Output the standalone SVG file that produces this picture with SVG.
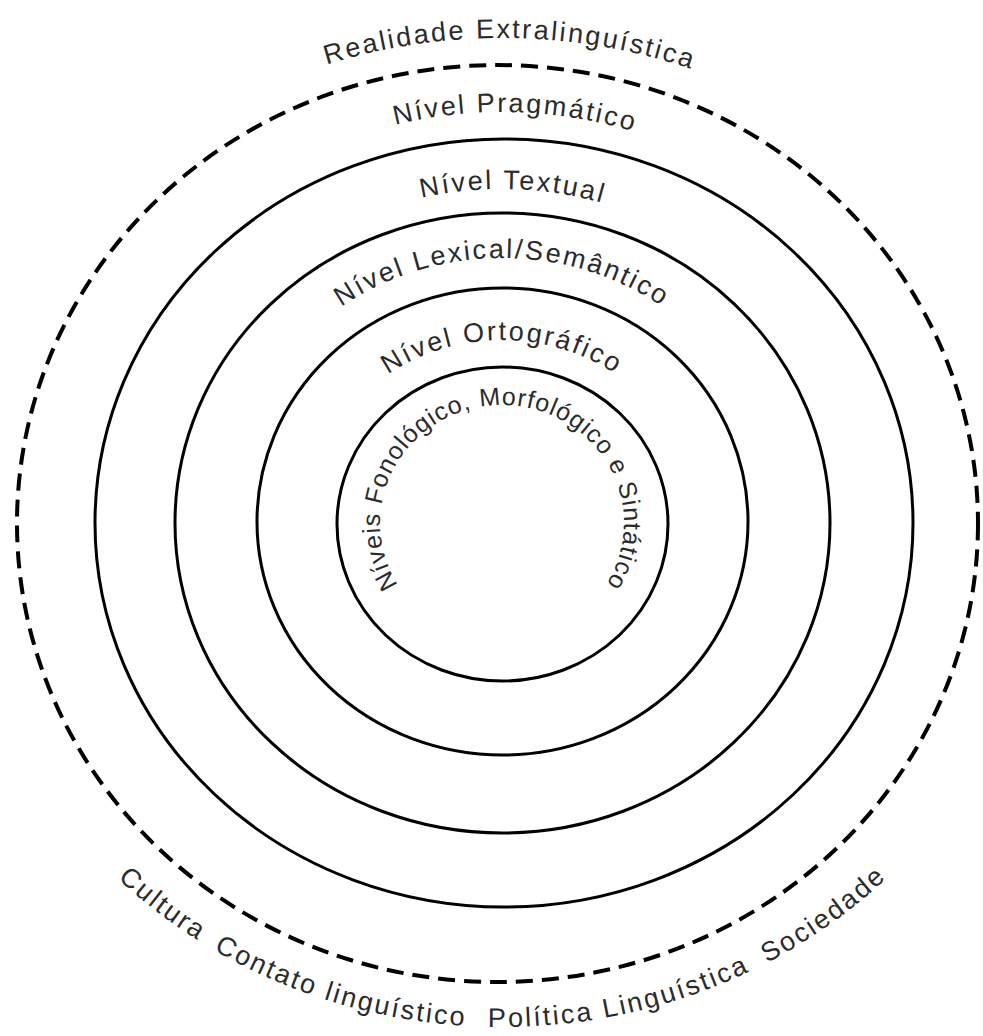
<svg xmlns="http://www.w3.org/2000/svg" xmlns:xlink="http://www.w3.org/1999/xlink" width="983" height="1036" viewBox="0 0 983 1036">
<style>
.ring{fill:none;stroke:#000;stroke-width:3}
.dash{fill:none;stroke:#000;stroke-width:4;stroke-dasharray:17 9}
.lbl{font-family:"Liberation Sans",Arial,sans-serif;font-size:27px;fill:#2b2b2b;letter-spacing:2.3px}
.inner{font-size:25px;letter-spacing:1px}
</style>
<defs>
<path id="pReal" d="M -36 523 A 538 485 0 0 1 1040 523"/>
<path id="pPrag" d="M 70 523 A 432 411 0 0 1 934 523"/>
<path id="pText" d="M 151 523 A 351 334 0 0 1 853 523"/>
<path id="pLex" d="M 224 523 A 278 265 0 0 1 780 523"/>
<path id="pOrto" d="M 307 523 A 195 183 0 0 1 697 523"/>
<path id="pInner" d="M 502 641 A 122 118 0 1 1 502 405 A 122 118 0 1 1 502 641"/>
<path id="pCult" d="M 117.7 878.4 A 538 495 0 0 0 408.6 1019.5"/>
<path id="pCont" d="M 213.7 949.9 A 538 495 0 0 0 771 960.7"/>
<path id="pPol" d="M 487.9 1026.8 A 538 495 0 0 0 967.9 779.5"/>
<path id="pSoc" d="M 766.9 962.8 A 538 495 0 0 0 1031.8 618"/>
</defs>
<g id="connectors"/>
<g id="realidade-extralinguistica">
<ellipse class="dash" cx="497.5" cy="523.5" rx="480.5" ry="458.5"/>
<text class="lbl"><textPath href="#pReal" xlink:href="#pReal" startOffset="50.5%" text-anchor="middle">Realidade Extralinguística</textPath></text>
<text class="lbl"><textPath href="#pCult" xlink:href="#pCult">Cultura</textPath></text>
<text class="lbl"><textPath href="#pCont" xlink:href="#pCont">Contato linguístico</textPath></text>
<text class="lbl"><textPath href="#pPol" xlink:href="#pPol">Política Linguística</textPath></text>
<text class="lbl"><textPath href="#pSoc" xlink:href="#pSoc">Sociedade</textPath></text>
</g>
<g id="nivel-pragmatico">
<ellipse class="ring" cx="504" cy="523" rx="409" ry="384"/>
<text class="lbl"><textPath href="#pPrag" xlink:href="#pPrag" startOffset="51%" text-anchor="middle">Nível Pragmático</textPath></text>
</g>
<g id="nivel-textual">
<ellipse class="ring" cx="502.5" cy="523" rx="327.5" ry="310"/>
<text class="lbl"><textPath href="#pText" xlink:href="#pText" startOffset="51%" text-anchor="middle">Nível Textual</textPath></text>
</g>
<g id="nivel-lexical-semantico">
<ellipse class="ring" cx="502.5" cy="521.5" rx="245.5" ry="233.5"/>
<text class="lbl"><textPath href="#pLex" xlink:href="#pLex" startOffset="50%" text-anchor="middle">Nível Lexical/Semântico</textPath></text>
</g>
<g id="nivel-ortografico">
<ellipse class="ring" cx="502.5" cy="524" rx="165.5" ry="157"/>
<text class="lbl"><textPath href="#pOrto" xlink:href="#pOrto" startOffset="50%" text-anchor="middle">Nível Ortográfico</textPath></text>
</g>
<g id="niveis-fonologico-morfologico-sintatico">
<text class="lbl inner"><textPath href="#pInner" xlink:href="#pInner" startOffset="50%" text-anchor="middle">Níveis Fonológico, Morfológico e Sintático</textPath></text>
</g>
</svg>
